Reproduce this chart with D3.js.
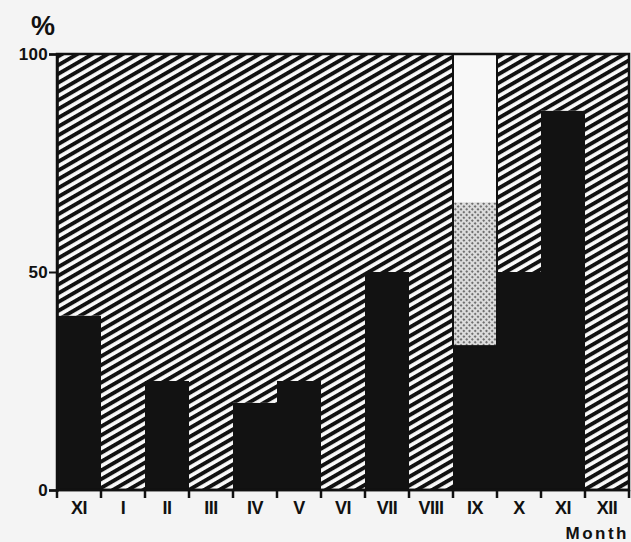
<!DOCTYPE html>
<html>
<head>
<meta charset="utf-8">
<script src="https://cdn.jsdelivr.net/npm/d3@7"></script>
<style>
  body { margin: 0; background: #f4f4f4; }
  svg { display: block; }
  text { font-family: "Liberation Sans", Arial, sans-serif; fill: #111; }
</style>
</head>
<body>
<div id="chart"></div>
<script>
const months = ['XI', 'I', 'II', 'III', 'IV', 'V', 'VI', 'VII', 'VIII', 'IX', 'X', 'XI', 'XII'];
const blackVals = [40, 0, 25, 0, 20, 25, 0, 50, 0, 33, 50, 87, 0];
const dottedVals = [0, 0, 0, 0, 0, 0, 0, 0, 0, 33, 0, 0, 0];
const whiteVals = [0, 0, 0, 0, 0, 0, 0, 0, 0, 34, 0, 0, 0];
const yTicks = [0, 50, 100];

const width = 631, height = 542;
const margin = { top: 54, right: 2, bottom: 52, left: 57 };

const svg = d3.select('#chart').append('svg')
  .attr('width', width)
  .attr('height', height);

const defs = svg.append('defs');

// diagonal hatching
const hatch = defs.append('pattern')
  .attr('id', 'hatch')
  .attr('patternUnits', 'userSpaceOnUse')
  .attr('width', 7.6)
  .attr('height', 7.6)
  .attr('patternTransform', 'rotate(-30)');
hatch.append('rect').attr('width', 7.6).attr('height', 7.6).attr('fill', '#fafafa');
hatch.append('rect').attr('width', 7.6).attr('height', 3.9).attr('fill', '#111');

// dotted screen
const dots = defs.append('pattern')
  .attr('id', 'dots')
  .attr('patternUnits', 'userSpaceOnUse')
  .attr('width', 4)
  .attr('height', 4)
  .attr('patternTransform', 'rotate(45)');
dots.append('rect').attr('width', 4).attr('height', 4).attr('fill', '#dcdcdc');
dots.append('circle').attr('cx', 2).attr('cy', 2).attr('r', 1.1).attr('fill', '#555');

const data = months.map((m, i) => ({
  idx: i,
  black: blackVals[i],
  dotted: dottedVals[i],
  white: whiteVals[i],
  hatched: 100 - blackVals[i] - dottedVals[i] - whiteVals[i]
}));

const keys = ['black', 'dotted', 'white', 'hatched'];
const fills = { black: '#121212', dotted: 'url(#dots)', white: '#f8f8f8', hatched: 'url(#hatch)' };

const x = d3.scaleBand()
  .domain(d3.range(months.length))
  .range([margin.left, width - margin.right])
  .padding(0);

const y = d3.scaleLinear()
  .domain([0, 100])
  .range([height - margin.bottom, margin.top]);

const series = d3.stack().keys(keys)(data);

const g = svg.append('g');

g.selectAll('g.layer')
  .data(series)
  .enter().append('g')
  .attr('class', 'layer')
  .attr('fill', d => fills[d.key])
  .selectAll('rect')
  .data(d => d.filter(p => p[1] > p[0]))
  .enter().append('rect')
  .attr('x', d => x(d.data.idx))
  .attr('width', x.bandwidth())
  .attr('y', d => y(d[1]))
  .attr('height', d => y(d[0]) - y(d[1]));

// outline around the white and dotted blocks
g.selectAll('rect.outline')
  .data(data.filter(d => d.white + d.dotted > 0))
  .enter().append('rect')
  .attr('class', 'outline')
  .attr('x', d => x(d.idx))
  .attr('width', x.bandwidth())
  .attr('y', d => y(d.black + d.dotted + d.white))
  .attr('height', d => y(d.black) - y(d.black + d.dotted + d.white))
  .attr('fill', 'none')
  .attr('stroke', '#111')
  .attr('stroke-width', 2);

// frame
svg.append('rect')
  .attr('x', margin.left)
  .attr('y', y(100))
  .attr('width', x.range()[1] - margin.left)
  .attr('height', y(0) - y(100))
  .attr('fill', 'none')
  .attr('stroke', '#111')
  .attr('stroke-width', 2.5);

// y axis
const yAxis = svg.append('g')
  .attr('transform', `translate(${margin.left},0)`)
  .call(d3.axisLeft(y).tickValues(yTicks).tickSize(8).tickPadding(1));
yAxis.select('.domain').attr('stroke', '#111').attr('stroke-width', 2.5);
yAxis.selectAll('.tick line').attr('stroke', '#111').attr('stroke-width', 2);
yAxis.selectAll('.tick text')
  .style('font-size', '17px')
  .style('font-weight', '600')
  .style('letter-spacing', '0.3px')
  .attr('dy', '0.35em');

// x axis ticks at band boundaries
const xAxis = svg.append('g')
  .attr('transform', `translate(0,${y(0)})`);
xAxis.append('line')
  .attr('x1', margin.left).attr('x2', x.range()[1])
  .attr('stroke', '#111').attr('stroke-width', 2.5);
xAxis.selectAll('line.tk')
  .data(d3.range(months.length + 1))
  .enter().append('line')
  .attr('class', 'tk')
  .attr('x1', i => margin.left + i * x.step())
  .attr('x2', i => margin.left + i * x.step())
  .attr('y1', 0).attr('y2', 8)
  .attr('stroke', '#111').attr('stroke-width', 2.5);
xAxis.selectAll('text.lbl')
  .data(data)
  .enter().append('text')
  .attr('class', 'lbl')
  .attr('x', d => x(d.idx) + x.bandwidth() / 2)
  .attr('y', 24)
  .attr('text-anchor', 'middle')
  .style('font-size', '18px')
  .style('font-weight', 'bold')
  .style('letter-spacing', '-0.5px')
  .text(d => months[d.idx]);

svg.append('text')
  .attr('x', 31)
  .attr('y', 35)
  .style('font-size', '27px')
  .style('font-weight', 'bold')
  .text('%');

svg.append('text')
  .attr('x', 629)
  .attr('y', 539)
  .attr('text-anchor', 'end')
  .style('font-size', '17px')
  .style('font-weight', 'bold')
  .style('letter-spacing', '2.5px')
  .text('Month');
</script>
</body>
</html>
